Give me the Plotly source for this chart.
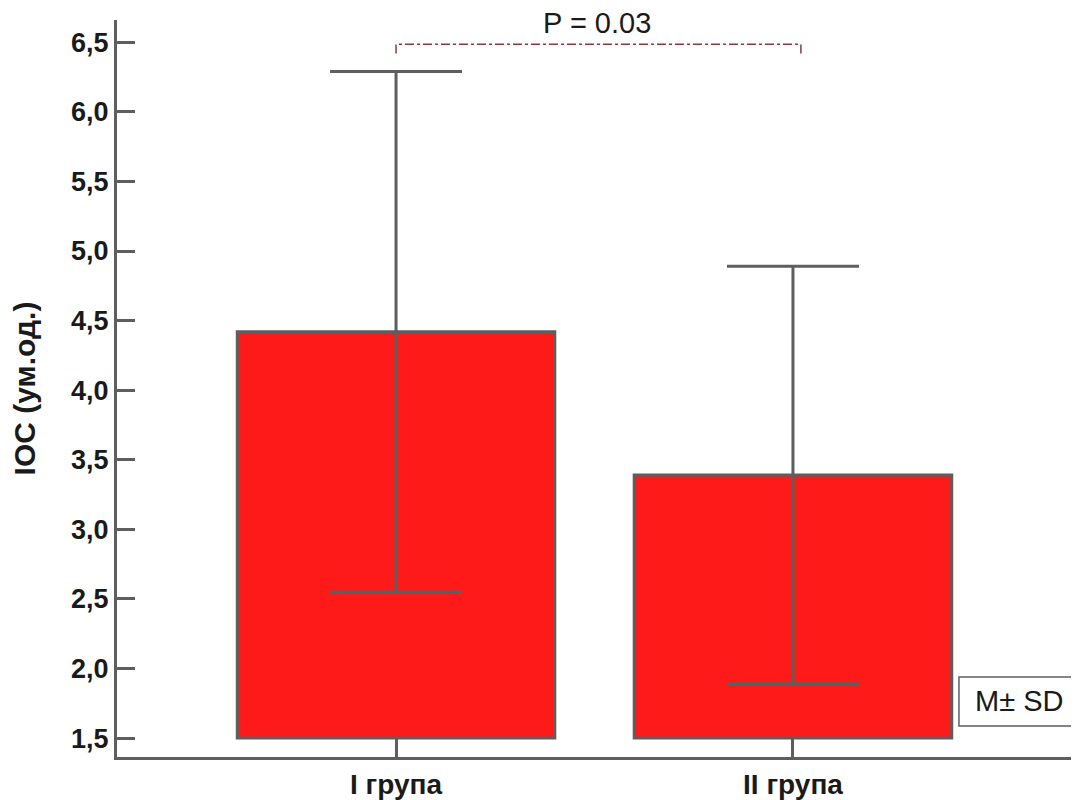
import plotly.graph_objects as go

categories = ["I група", "II група"]
means = [4.42, 3.39]
sds = [1.87, 1.50]
bar_base = 1.5
tick_vals = [1.5, 2.0, 2.5, 3.0, 3.5, 4.0, 4.5, 5.0, 5.5, 6.0, 6.5]
tick_text = ["1,5", "2,0", "2,5", "3,0", "3,5", "4,0", "4,5", "5,0", "5,5", "6,0", "6,5"]
p_text = "P = 0.03"
legend_text = "M\u00b1 SD"
y_title = "IOC (ум.од.)"

GREY = "#5e5e5e"
TXT = "#1a1a1a"
FONT = "Liberation Sans, Arial, sans-serif"

x_pos = [0, 1]

fig = go.Figure()
fig.add_trace(go.Bar(
    x=x_pos,
    y=[m - bar_base for m in means],
    base=bar_base,
    width=0.8,
    marker=dict(color="#ff1a1a", line=dict(color=GREY, width=3)),
    hoverinfo="skip",
))
fig.add_trace(go.Scatter(
    x=x_pos,
    y=means,
    mode="markers",
    marker=dict(opacity=0, size=1),
    error_y=dict(type="data", array=sds, visible=True, color=GREY, thickness=3, width=66),
    hoverinfo="skip",
))

# significance bracket
y_br = 6.485
y_br_end = 6.42
fig.add_shape(type="path",
              path=f"M 0 {y_br_end} L 0 {y_br} L 1.02 {y_br} L 1.02 {y_br_end}",
              xref="x", yref="y",
              line=dict(color="#8b3a3a", width=1.5, dash="dashdot"))
fig.add_annotation(x=0.506, y=y_br, xref="x", yref="y", text=p_text,
                   showarrow=False, yanchor="bottom", yshift=3,
                   font=dict(family=FONT, size=29, color=TXT))

# M ± SD box
fig.add_shape(type="rect", xref="paper", yref="paper",
              x0=0.8798, x1=1.02, y0=0.0421, y1=0.1085,
              line=dict(color=GREY, width=1.5), fillcolor="white", layer="above")
fig.add_annotation(x=0.8945, y=0.076, xref="paper", yref="paper", text=legend_text,
                   showarrow=False, xanchor="left", yanchor="middle", align="left",
                   font=dict(family=FONT, size=29, color=TXT))

fig.update_layout(
    width=1071, height=792,
    margin=dict(l=109, r=5, t=12, b=43, autoexpand=False),
    paper_bgcolor="white", plot_bgcolor="white",
    showlegend=False,
    font=dict(family=FONT, color=TXT),
)
fig.update_xaxes(
    range=[-0.703, 1.708],
    tickvals=x_pos, ticktext=categories,
    showline=True, linecolor=GREY, linewidth=3,
    ticks="inside", ticklen=19, tickwidth=3, tickcolor=GREY,
    tickfont=dict(family=FONT, size=28, color=TXT, weight="bold"),
    showgrid=False, zeroline=False, automargin=False,
)
fig.update_yaxes(
    range=[1.364, 6.66],
    tickvals=tick_vals, ticktext=tick_text,
    showline=True, linecolor=GREY, linewidth=3,
    ticks="inside", ticklen=18, tickwidth=3, tickcolor=GREY,
    tickfont=dict(family=FONT, size=27, color=TXT, weight="bold"),
    title=dict(text=y_title, font=dict(family=FONT, size=30, color=TXT, weight="bold"), standoff=34),
    showgrid=False, zeroline=False, automargin=False,
)

fig.write_html("out.html")
